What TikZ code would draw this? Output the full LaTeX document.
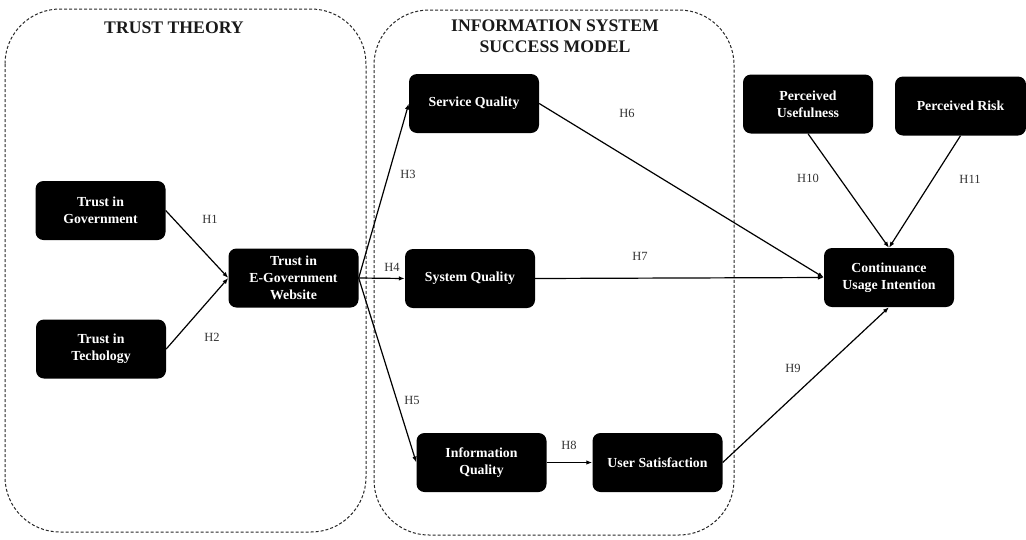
\documentclass[tikz,border=0pt]{standalone}
\usepackage{fontspec}
\setmainfont{Liberation Serif}
\usetikzlibrary{arrows.meta}
\begin{document}
\begin{tikzpicture}[x=1pt,y=-1pt,
  box/.style={rectangle, rounded corners=8pt, fill=black, text=white,
    font=\fontsize{13.8}{17}\selectfont\bfseries, align=center,
    minimum width=130pt, minimum height=59pt, inner sep=0pt},
  grp/.style={draw=black!85, dash pattern=on 3pt off 2pt, line width=1pt, rounded corners=55pt},
  conn/.style={draw=black, line width=1.2pt, -{Latex[length=6pt,width=4.5pt]}},
  hyp/.style={text=black!80, font=\fontsize{12.5}{14}\selectfont, inner sep=0pt},
  ttl/.style={text=black!90, font=\fontsize{17.7}{20.5}\selectfont\bfseries, align=center, inner sep=0pt}]
\useasboundingbox (0,0) rectangle (1026,539);
% group frames
\draw[grp] (5,9) rectangle (366,532);
\draw[grp] (374,10) rectangle (734,535);
\node[ttl] (t1) at (174,28) {TRUST THEORY};
\node[ttl] (t2) at (555,36) {INFORMATION SYSTEM\\SUCCESS MODEL};
% nodes
\node[box] (gov) at (100.5,210.5) {Trust in\\Government};
\node[box] (tech) at (101,349) {Trust in\\Techology};
\node[box] (egov) at (293.5,278) {Trust in\\E-Government\\Website};
\node[box] (serv) at (474,103.5) {Service Quality};
\node[box] (sys) at (470,278.5) {System Quality};
\node[box] (info) at (481.5,462.5) {Information\\Quality};
\node[box] (usat) at (657.5,462.5) {User Satisfaction};
\node[box] (pu) at (808,104) {Perceived\\Usefulness};
\node[box, minimum width=131pt] (pr) at (960.5,106) {Perceived Risk};
\node[box] (cui) at (889,277.5) {Continuance\\Usage Intention};
% connectors
\draw[conn] (gov.east) -- (egov.west);
\draw[conn] (tech.east) -- (egov.west);
\draw[conn] (egov.east) -- (serv.west);
\draw[conn] (egov.east) -- (sys.west);
\draw[conn] (egov.east) -- (info.west);
\draw[conn] (serv.east) -- (cui.west);
\draw[conn] (sys.east) -- (cui.west);
\draw[conn] (info.east) -- (usat.west);
\draw[conn] (usat.east) -- (cui.south);
\draw[conn] (pu.south) -- (cui.north);
\draw[conn] (pr.south) -- (cui.north);
% hypothesis labels
\node[hyp] (h1) at (210,219) {H1};
\node[hyp] (h2) at (212,337) {H2};
\node[hyp] (h3) at (408,174) {H3};
\node[hyp] (h4) at (392,267) {H4};
\node[hyp] (h5) at (412,400) {H5};
\node[hyp] (h6) at (627,113) {H6};
\node[hyp] (h7) at (640,256) {H7};
\node[hyp] (h8) at (569,445) {H8};
\node[hyp] (h9) at (793,368) {H9};
\node[hyp] (h10) at (808,178) {H10};
\node[hyp] (h11) at (970,179) {H11};
\end{tikzpicture}
\end{document}
